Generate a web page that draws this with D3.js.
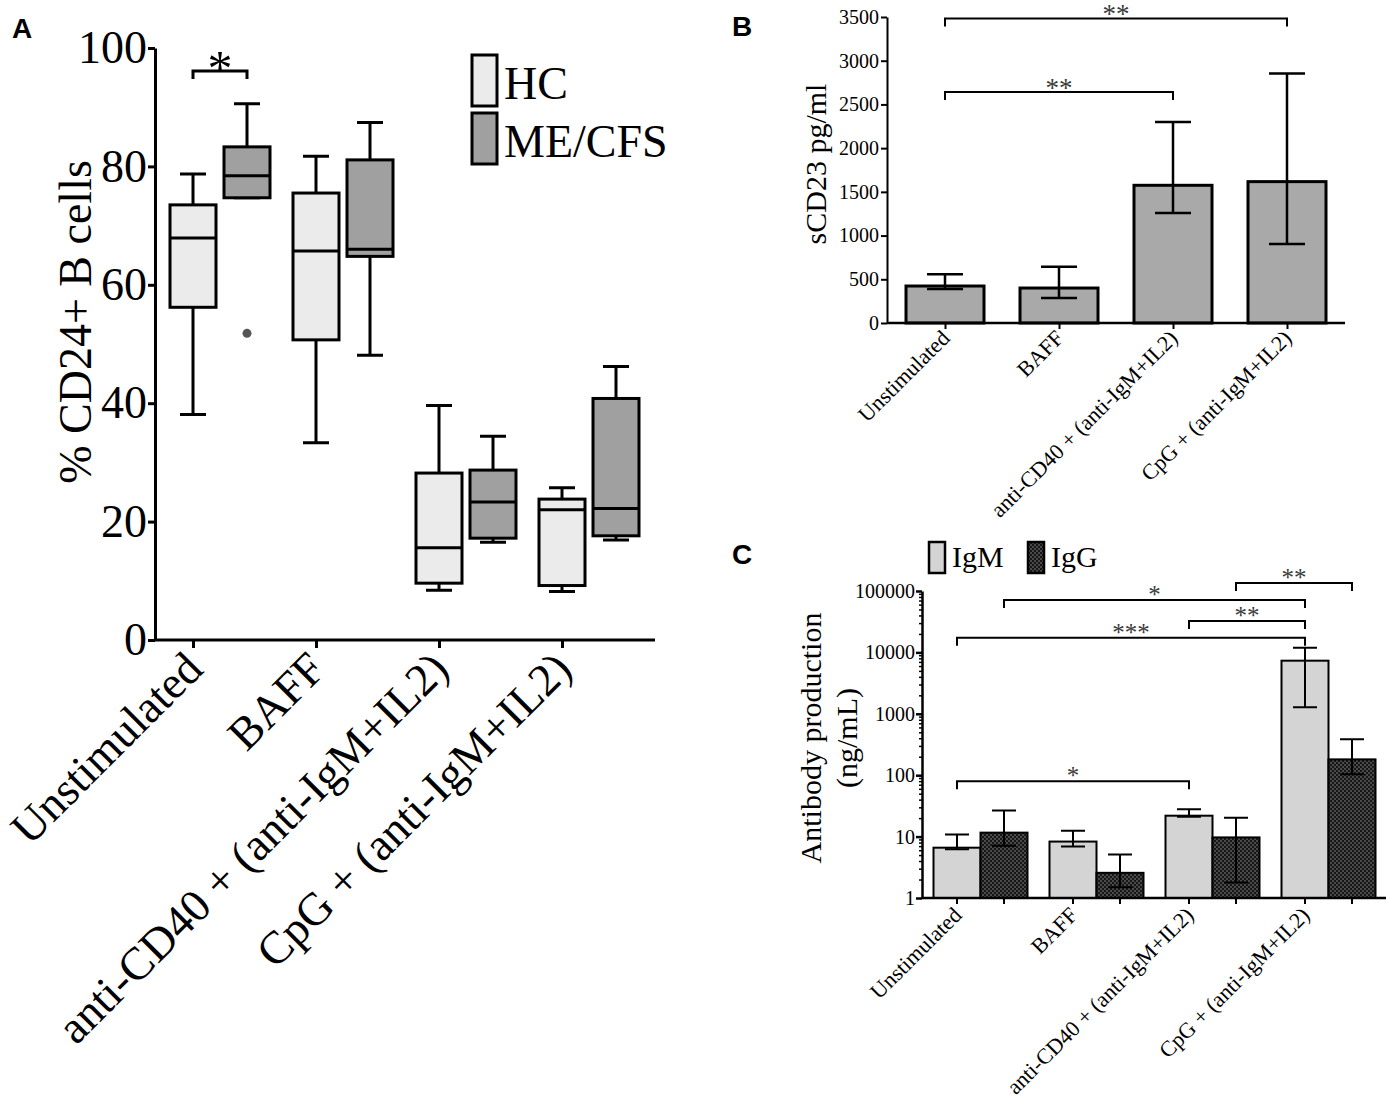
<!DOCTYPE html>
<html>
<head>
<meta charset="utf-8">
<script src="https://cdn.jsdelivr.net/npm/d3@7"></script>
<style>
  body { margin: 0; background: #fff; }
  svg { display: block; }
</style>
</head>
<body>
<svg id="fig" width="1389" height="1102"></svg>
<script>
// ---- data ----
const groups = ["Unstimulated", "BAFF", "anti-CD40 + (anti-IgM+IL2)", "CpG + (anti-IgM+IL2)"];

// panel A: % CD24+ B cells, [min, q1, median, q3, max]
const seriesA = ["HC", "ME/CFS"];
const hcBox = [
  [38.1, 56.2, 67.9, 73.5, 78.7],
  [33.3, 50.7, 65.7, 75.5, 81.7],
  [8.4, 9.6, 15.6, 28.2, 39.6],
  [8.2, 9.2, 22.0, 23.8, 25.7]
];
const meBox = [
  [74.7, 74.7, 78.4, 83.3, 90.6],
  [48.1, 64.8, 66.0, 81.1, 87.4],
  [16.5, 17.2, 23.3, 28.7, 34.4],
  [16.9, 17.6, 22.2, 40.8, 46.2]
];
const meOutliers = [{ group: 0, value: 51.8 }];
const sigA = [{ from: [0, "HC"], to: [0, "ME/CFS"], value: 96.1, label: "*" }];

// panel B: sCD23 pg/ml
const sCD23 = [423, 400, 1575, 1617];
const sCD23Hi = [557, 643, 2299, 2853];
const sCD23Lo = [389, 285, 1259, 905];
const sigB = [
  { from: 0, to: 3, value: 3483, label: "**" },
  { from: 0, to: 2, value: 2643, label: "**" }
];

// panel C: antibody production ng/mL (log)
const seriesC = ["IgM", "IgG"];
const igM = [6.6, 8.3, 21.9, 7330];
const igMHi = [10.8, 12.5, 27.9, 11900];
const igMLo = [6.2, 6.9, 21.0, 1277];
const igG = [11.6, 2.57, 9.7, 181];
const igGHi = [26.7, 5.1, 20.3, 384];
const igGLo = [7.1, 1.5, 1.78, 104];
const sigC = [
  { from: [0, "IgM"], to: [2, "IgM"], value: 79.6, label: "*" },
  { from: [0, "IgM"], to: [3, "IgM"], value: 17260, label: "***" },
  { from: [2, "IgM"], to: [3, "IgM"], value: 32600, label: "**" },
  { from: [0, "IgG"], to: [3, "IgM"], value: 71450, label: "*" },
  { from: [2, "IgG"], to: [3, "IgG"], value: 134900, label: "**" }
];

// ---- drawing ----
const serif = "'Liberation Serif', 'Times New Roman', serif";
const sans = "'Liberation Sans', Arial, sans-serif";
const svg = d3.select("#fig");

const defs = svg.append("defs");
const pat = defs.append("pattern").attr("id", "dots")
  .attr("width", 4).attr("height", 4).attr("patternUnits", "userSpaceOnUse");
pat.append("rect").attr("width", 4).attr("height", 4).attr("fill", "#161616");
pat.append("rect").attr("width", 2).attr("height", 2).attr("fill", "#4a4a4a");
pat.append("rect").attr("x", 2).attr("y", 2).attr("width", 2).attr("height", 2).attr("fill", "#4a4a4a");

function letter(t, x, y) {
  svg.append("text").attr("x", x).attr("y", y).text(t)
    .attr("font-family", sans).attr("font-weight", "bold").attr("font-size", 28);
}
letter("A", 12, 38);
letter("B", 732, 36);
letter("C", 732, 564);

function styleAxis(g, size, width) {
  g.attr("font-family", serif).attr("font-size", size);
  g.select(".domain").attr("stroke-width", width);
  g.selectAll(".tick line").attr("stroke-width", width);
  g.selectAll(".tick text").attr("fill", "#000");
}

function bracket(g, x1, x2, y, label, fsize, gap, lw, color) {
  g.append("path")
    .attr("d", `M${x1},${y + 8}V${y}H${x2}V${y + 8}`)
    .attr("fill", "none").attr("stroke", "#000").attr("stroke-width", lw);
  g.append("text").attr("x", (x1 + x2) / 2).attr("y", y - gap + 0.47 * fsize)
    .attr("text-anchor", "middle").attr("font-family", serif)
    .attr("font-size", fsize).attr("fill", color).text(label);
}

function rotLabels(g, size, drop) {
  g.selectAll(".tick text")
    .attr("y", 0).attr("dy", "0.35em")
    .attr("transform", `translate(0,${drop}) rotate(-45)`)
    .attr("text-anchor", "end").attr("font-size", size);
}

// ===== Panel A =====
const gA = svg.append("g");
const yA = d3.scaleLinear().domain([0, 100]).range([640, 48]);
const xA = d3.scalePoint().domain(groups).range([193, 562]);
const sA = d3.scaleOrdinal().domain(seriesA).range([0, 54]);
const fillA = d3.scaleOrdinal().domain(seriesA).range(["#ebebeb", "#a0a0a0"]);
const boxW = 46, capA = 26;

const boxes = seriesA.flatMap(s => groups.map((g, i) => ({
  s, g, v: (s === "HC" ? hcBox : meBox)[i]
})));

const bx = gA.selectAll("g.box").data(boxes).join("g").attr("class", "box")
  .attr("transform", d => `translate(${xA(d.g) + sA(d.s)},0)`);
bx.append("path")
  .attr("d", d => `M${-capA / 2},${yA(d.v[0])}H${capA / 2}M0,${yA(d.v[0])}V${yA(d.v[4])}M${-capA / 2},${yA(d.v[4])}H${capA / 2}`)
  .attr("stroke", "#000").attr("stroke-width", 3).attr("fill", "none");
bx.append("rect")
  .attr("x", -boxW / 2).attr("width", boxW)
  .attr("y", d => yA(d.v[3])).attr("height", d => yA(d.v[1]) - yA(d.v[3]))
  .attr("fill", d => fillA(d.s)).attr("stroke", "#000").attr("stroke-width", 3);
bx.append("line")
  .attr("x1", -boxW / 2).attr("x2", boxW / 2)
  .attr("y1", d => yA(d.v[2])).attr("y2", d => yA(d.v[2]))
  .attr("stroke", "#000").attr("stroke-width", 3);

gA.selectAll("circle.out").data(meOutliers).join("circle").attr("class", "out")
  .attr("cx", d => xA(groups[d.group]) + sA("ME/CFS"))
  .attr("cy", d => yA(d.value)).attr("r", 4.5).attr("fill", "#555");

sigA.forEach(b => bracket(gA,
  xA(groups[b.from[0]]) + sA(b.from[1]), xA(groups[b.to[0]]) + sA(b.to[1]),
  yA(b.value), b.label, 50, 10, 3, "#000"));

gA.append("g").attr("transform", "translate(155,0)")
  .call(d3.axisLeft(yA).tickValues(d3.range(0, 101, 20)).tickSize(7).tickSizeOuter(0).tickPadding(1))
  .call(g => styleAxis(g, 46, 3));
gA.append("line").attr("x1", 155).attr("x2", 655).attr("y1", 640).attr("y2", 640)
  .attr("stroke", "#000").attr("stroke-width", 3);
gA.append("g").attr("transform", "translate(0,640)")
  .call(d3.axisBottom(xA).tickSize(8).tickSizeOuter(0))
  .call(g => { styleAxis(g, 46, 3); g.select(".domain").remove(); rotLabels(g, 46, 20); });

gA.append("text").attr("transform", "translate(91,322) rotate(-90)")
  .attr("text-anchor", "middle").attr("font-family", serif).attr("font-size", 46)
  .text("% CD24+ B cells");

const legA = gA.selectAll("g.leg").data(seriesA).join("g").attr("class", "leg")
  .attr("transform", (d, i) => `translate(472,${55 + i * 58})`);
legA.append("rect").attr("width", 25).attr("height", 51)
  .attr("fill", d => fillA(d)).attr("stroke", "#000").attr("stroke-width", 3);
legA.append("text").attr("x", 32).attr("y", 44).attr("font-family", serif)
  .attr("font-size", 46).text(d => d);

// ===== Panel B =====
const gB = svg.append("g");
const yB = d3.scaleLinear().domain([0, 3500]).range([323, 17]);
const xB = d3.scalePoint().domain(groups).range([945, 1287]);
const barB = 78, capB = 36;

gB.selectAll("rect.bar").data(groups).join("rect").attr("class", "bar")
  .attr("x", d => xB(d) - barB / 2).attr("width", barB)
  .attr("y", (d, i) => yB(sCD23[i])).attr("height", (d, i) => yB(0) - yB(sCD23[i]))
  .attr("fill", "#a9a9a9").attr("stroke", "#000").attr("stroke-width", 3);
gB.selectAll("path.err").data(groups).join("path").attr("class", "err")
  .attr("d", (d, i) => {
    const x = xB(d), hi = yB(sCD23Hi[i]), lo = yB(sCD23Lo[i]);
    return `M${x - capB / 2},${hi}H${x + capB / 2}M${x},${hi}V${lo}M${x - capB / 2},${lo}H${x + capB / 2}`;
  })
  .attr("stroke", "#000").attr("stroke-width", 2.5).attr("fill", "none");

sigB.forEach(b => bracket(gB, xB(groups[b.from]), xB(groups[b.to]), yB(b.value), b.label, 27, 8, 2, "#3a3a3a"));

gB.append("g").attr("transform", "translate(887,0)")
  .call(d3.axisLeft(yB).tickValues(d3.range(0, 3501, 500)).tickFormat(d3.format("d"))
    .tickSize(6).tickSizeOuter(0).tickPadding(2))
  .call(g => styleAxis(g, 20, 2));
gB.append("line").attr("x1", 887).attr("x2", 1345).attr("y1", 323).attr("y2", 323)
  .attr("stroke", "#000").attr("stroke-width", 2.5);
gB.append("g").attr("transform", "translate(0,323)")
  .call(d3.axisBottom(xB).tickSize(6).tickSizeOuter(0))
  .call(g => { styleAxis(g, 20, 2); g.select(".domain").remove(); rotLabels(g, 22, 11); });

gB.append("text").attr("transform", "translate(826,164) rotate(-90)")
  .attr("text-anchor", "middle").attr("font-family", serif).attr("font-size", 30)
  .text("sCD23 pg/ml");

// ===== Panel C =====
const gC = svg.append("g");
const yC = d3.scaleLog().domain([1, 1e5]).range([898, 591]);
const xC = d3.scalePoint().domain(groups).range([957, 1305]);
const sC = d3.scaleOrdinal().domain(seriesC).range([0, 47]);
const fillC = d3.scaleOrdinal().domain(seriesC).range(["#d4d4d4", "url(#dots)"]);
const barC = 47, capC = 24;

const barsC = seriesC.flatMap(s => groups.map((g, i) => ({
  s, g,
  v: (s === "IgM" ? igM : igG)[i],
  hi: (s === "IgM" ? igMHi : igGHi)[i],
  lo: (s === "IgM" ? igMLo : igGLo)[i]
})));
const cx = d => xC(d.g) + sC(d.s);

gC.selectAll("rect.bar").data(barsC).join("rect").attr("class", "bar")
  .attr("x", d => cx(d) - barC / 2).attr("width", barC)
  .attr("y", d => yC(d.v)).attr("height", d => yC(1) - yC(d.v))
  .attr("fill", d => fillC(d.s)).attr("stroke", "#000").attr("stroke-width", 2);
gC.selectAll("path.err").data(barsC).join("path").attr("class", "err")
  .attr("d", d => {
    const x = cx(d), hi = yC(d.hi), lo = yC(d.lo);
    return `M${x - capC / 2},${hi}H${x + capC / 2}M${x},${hi}V${lo}M${x - capC / 2},${lo}H${x + capC / 2}`;
  })
  .attr("stroke", "#000").attr("stroke-width", 2).attr("fill", "none");

sigC.forEach(b => bracket(gC,
  xC(groups[b.from[0]]) + sC(b.from[1]), xC(groups[b.to[0]]) + sC(b.to[1]),
  yC(b.value), b.label, 25, 9, 2, "#3a3a3a"));

const minor = d3.range(0, 5).flatMap(e => d3.range(2, 10).map(m => m * Math.pow(10, e)));
gC.append("g").attr("transform", "translate(922,0)")
  .call(d3.axisLeft(yC).tickValues(minor).tickSize(3).tickFormat("").tickSizeOuter(0))
  .call(g => { styleAxis(g, 20, 1.5); g.select(".domain").remove(); });
gC.append("g").attr("transform", "translate(922,0)")
  .call(d3.axisLeft(yC).tickValues([1, 10, 100, 1000, 10000, 100000])
    .tickFormat(d3.format("d")).tickSize(6).tickSizeOuter(0).tickPadding(1))
  .call(g => styleAxis(g, 20, 2.5));

gC.append("line").attr("x1", 922).attr("x2", 1386).attr("y1", 898).attr("y2", 898)
  .attr("stroke", "#000").attr("stroke-width", 2.5);
gC.selectAll("line.xt").data(barsC).join("line").attr("class", "xt")
  .attr("x1", cx).attr("x2", cx).attr("y1", 898).attr("y2", 904)
  .attr("stroke", "#000").attr("stroke-width", 2);
gC.append("g").attr("transform", "translate(0,898)")
  .call(d3.axisBottom(xC).tickSize(0).tickSizeOuter(0))
  .call(g => { styleAxis(g, 22, 2); g.select(".domain").remove(); rotLabels(g, 22, 13); });

gC.append("text").attr("transform", "translate(821,738) rotate(-90)")
  .attr("text-anchor", "middle").attr("font-family", serif).attr("font-size", 30)
  .text("Antibody production");
gC.append("text").attr("transform", "translate(857,738) rotate(-90)")
  .attr("text-anchor", "middle").attr("font-family", serif).attr("font-size", 30)
  .text("(ng/mL)");

const legC = gC.selectAll("g.leg").data(seriesC).join("g").attr("class", "leg")
  .attr("transform", (d, i) => `translate(${929 + i * 99},542)`);
legC.append("rect").attr("width", 16).attr("height", 31)
  .attr("fill", d => fillC(d)).attr("stroke", "#000").attr("stroke-width", 2.5);
legC.append("text").attr("x", 23).attr("y", 25).attr("font-family", serif)
  .attr("font-size", 30).text(d => d);
</script>
</body>
</html>
